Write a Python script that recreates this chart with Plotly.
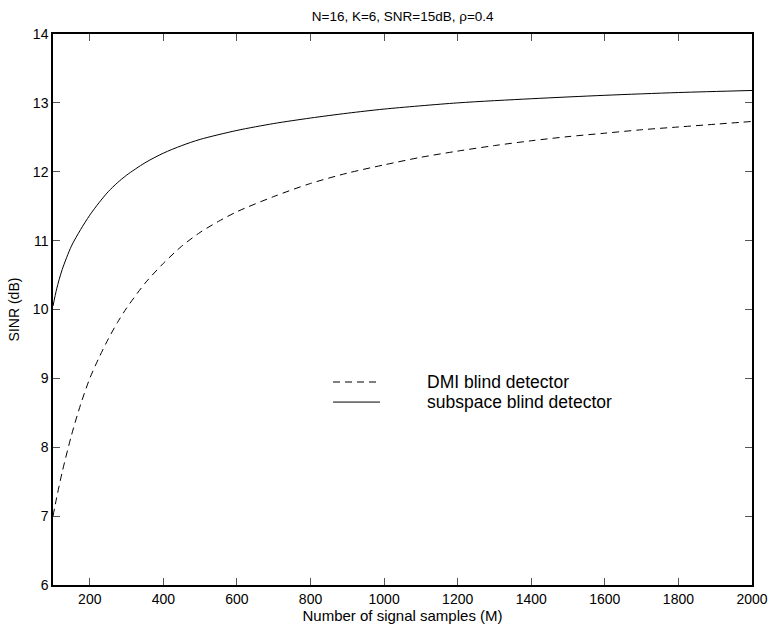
import plotly.graph_objects as go

# Number of signal samples (M) and SINR (dB) for each detector
m_dmi = [100, 110, 125, 150, 175, 200, 225, 250, 275, 300, 350, 400, 450, 500, 550,
         600, 700, 800, 900, 1000, 1100, 1200, 1300, 1400, 1500, 1600, 1700, 1800,
         1900, 2000]
sinr_dmi = [7.0, 7.27, 7.64, 8.17, 8.62, 9.0, 9.3, 9.57, 9.81, 10.02, 10.38, 10.67,
            10.92, 11.12, 11.28, 11.42, 11.64, 11.83, 11.98, 12.1, 12.21, 12.3, 12.38,
            12.45, 12.51, 12.56, 12.61, 12.65, 12.69, 12.73]

m_sub = [100, 110, 125, 150, 175, 200, 225, 250, 275, 300, 350, 400, 450, 500, 600,
         700, 800, 900, 1000, 1200, 1400, 1600, 1800, 2000]
sinr_sub = [10.05, 10.3, 10.58, 10.92, 11.16, 11.37, 11.55, 11.71, 11.84, 11.95, 12.13,
            12.27, 12.38, 12.47, 12.6, 12.7, 12.78, 12.85, 12.91, 13.0, 13.06, 13.11,
            13.15, 13.18]

x_ticks = [200, 400, 600, 800, 1000, 1200, 1400, 1600, 1800, 2000]
y_ticks = [6, 7, 8, 9, 10, 11, 12, 13, 14]

font = "Liberation Sans, Arial, sans-serif"
dash_style = "7px,5px"

fig = go.Figure()
fig.add_trace(go.Scatter(x=m_dmi, y=sinr_dmi, mode="lines", name="DMI blind detector",
                         line=dict(color="black", width=1, dash=dash_style,
                                   shape="spline", smoothing=0.8),
                         showlegend=False))
fig.add_trace(go.Scatter(x=m_sub, y=sinr_sub, mode="lines", name="subspace blind detector",
                         line=dict(color="black", width=1, shape="spline", smoothing=0.8),
                         showlegend=False))

# Legend drawn inside the axes
legend_items = [("DMI blind detector", dash_style, 0.3684),
                ("subspace blind detector", "solid", 0.332)]
for label, dash, yy in legend_items:
    fig.add_shape(type="line", xref="paper", yref="paper", x0=0.4006, x1=0.4678,
                  y0=yy, y1=yy, line=dict(color="black", width=1, dash=dash))
    fig.add_annotation(xref="paper", yref="paper", x=0.532, y=yy, text=label,
                       showarrow=False, xanchor="left", yanchor="middle",
                       font=dict(family=font, size=17.5, color="black"))

axis_common = dict(showline=True, linecolor="black", linewidth=1.5, mirror="ticks",
                   ticks="inside", ticklen=7, tickwidth=1, tickcolor="#555555",
                   showgrid=False, zeroline=False, automargin=False,
                   tickfont=dict(family=font, size=14, color="black"))

fig.update_layout(
    width=772, height=631,
    margin=dict(l=53, r=20, t=34, b=46),
    paper_bgcolor="white", plot_bgcolor="white",
    title=dict(text="N=16, K=6, SNR=15dB, ρ=0.4", x=0.5216, xanchor="center",
               y=0.975, yanchor="middle", font=dict(family=font, size=13.5, color="black")),
    xaxis=dict(range=[100, 2000], tickvals=x_ticks,
               title=dict(text="Number of signal samples (M)", standoff=2,
                          font=dict(family=font, size=15, color="black")),
               **axis_common),
    yaxis=dict(range=[6, 14], tickvals=y_ticks,
               title=dict(text="SINR (dB)", standoff=10,
                          font=dict(family=font, size=14, color="black")),
               **axis_common),
)

fig.write_html("out.html")
